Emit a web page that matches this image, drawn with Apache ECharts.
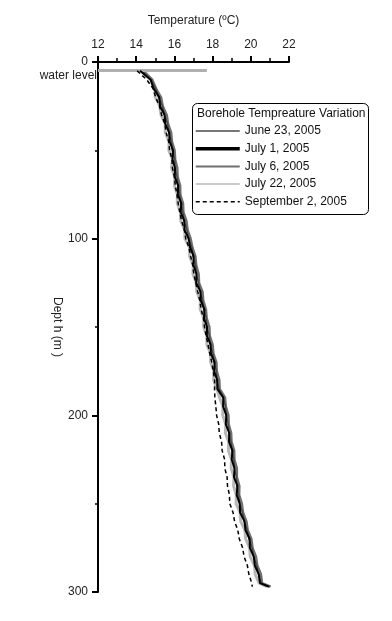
<!DOCTYPE html>
<html>
<head>
<meta charset="utf-8">
<script src="https://cdn.jsdelivr.net/npm/echarts@6/dist/echarts.min.js"></script>
<style>html,body{margin:0;padding:0;background:#fff}#c{width:392px;height:621px}</style>
</head>
<body>
<div id="c"></div>
<script>
var xTicks = [12, 14, 16, 18, 20, 22];
var yTicks = [0, 100, 200, 300];
var seriesNames = ['June 23, 2005', 'July 1, 2005', 'July 6, 2005', 'July 22, 2005', 'September 2, 2005'];
var legendTitle = 'Borehole Tempreature Variation';
var waterLevelDepth = 4.5;
var waterLevelTemp = 17.7;

var depths = [5,10,15,20,25,30,35,40,45,50,55,60,65,70,75,80,85,90,95,100,
  105,110,115,120,125,130,135,140,145,150,155,160,165,170,175,180,185,190,195,200,
  205,210,215,220,225,230,235,240,245,250,255,260,265,270,275,280,285,290,295,297];

var june23 = [14.30,14.78,15.02,15.17,15.38,15.47,15.65,15.70,15.85,15.88,16.02,16.03,16.14,16.17,16.29,16.32,16.45,16.50,16.66,16.73,
  16.92,16.97,17.12,17.14,17.27,17.34,17.48,17.53,17.67,17.70,17.83,17.87,18.02,18.07,18.20,18.22,18.34,18.55,18.68,18.71,
  18.82,18.85,18.97,19.00,19.12,19.14,19.25,19.27,19.37,19.41,19.57,19.65,19.82,19.90,20.07,20.14,20.32,20.40,20.56,21.00];

var july1 = [14.20,14.75,14.91,15.21,15.25,15.49,15.52,15.73,15.75,15.93,15.90,16.03,16.02,16.20,16.18,16.36,16.33,16.52,16.53,16.75,
  16.82,17.01,17.00,17.16,17.14,17.37,17.38,17.57,17.55,17.71,17.70,17.90,17.91,18.11,18.08,18.24,18.25,18.56,18.55,18.72,
  18.69,18.87,18.86,19.04,19.00,19.15,19.12,19.30,19.26,19.42,19.44,19.67,19.72,19.94,19.95,20.16,20.21,20.42,20.48,20.95];

var july6 = [14.35,14.84,15.04,15.30,15.39,15.60,15.67,15.83,15.87,16.01,16.04,16.15,16.17,16.30,16.31,16.45,16.47,16.63,16.69,16.85,
  16.94,17.10,17.14,17.27,17.29,17.47,17.51,17.65,17.69,17.83,17.85,18.00,18.04,18.20,18.22,18.35,18.37,18.65,18.69,18.83,
  18.84,18.97,18.99,19.13,19.14,19.27,19.27,19.40,19.39,19.53,19.59,19.77,19.84,20.03,20.09,20.27,20.34,20.53,20.59,21.04];

var july22 = [14.40,14.82,14.97,15.00,15.24,15.30,15.52,15.52,15.72,15.71,15.90,15.85,16.02,16.00,16.16,16.15,16.32,16.33,16.54,16.55,
  16.79,16.80,16.99,16.97,17.14,17.17,17.36,17.35,17.54,17.53,17.70,17.70,17.89,17.90,18.07,18.05,18.22,18.37,18.54,18.53,
  18.69,18.67,18.84,18.83,18.99,18.97,19.12,19.10,19.24,19.23,19.44,19.47,19.69,19.73,19.94,19.97,20.19,20.23,20.44,20.85];

var sept2 = [14.05,14.55,14.88,15.02,15.22,15.33,15.50,15.57,15.70,15.75,15.87,15.90,16.00,16.05,16.13,16.20,16.28,16.38,16.52,16.60,
  16.76,16.85,16.96,17.02,17.12,17.22,17.33,17.40,17.52,17.58,17.66,17.76,17.85,17.96,18.03,18.11,18.10,18.12,18.17,18.21,
  18.32,18.35,18.47,18.50,18.63,18.64,18.76,18.78,18.88,18.90,19.07,19.15,19.32,19.40,19.57,19.65,19.82,19.90,20.05,20.08];

function pairs(temps) { return depths.map(function (d, i) { return [temps[i], d]; }); }

var FONT = '"Liberation Sans", Arial, sans-serif';
var chart = echarts.init(document.getElementById('c'), null, {renderer: 'canvas'});

var styles = [
  {color: '#4a4a4a', width: 1.5, type: 'solid', z: 4},
  {color: '#000000', width: 2.0, type: 'solid', z: 5},
  {color: '#707070', width: 2.5, type: 'solid', z: 3},
  {color: '#b8b8b8', width: 3.0, type: 'solid', z: 2},
  {color: '#000000', width: 1.5, type: [4, 3], z: 6}
];
var legendWidths = [1.5, 3.5, 2, 1.5, 1.5];
var allTemps = [june23, july1, july6, july22, sept2];

var series = seriesNames.map(function (name, k) {
  var s = styles[k];
  var obj = {
    name: name,
    type: 'line',
    data: pairs(allTemps[k]),
    symbol: 'none',
    showSymbol: false,
    z: s.z,
    color: s.color,
    lineStyle: {color: s.color, width: s.width, type: s.type},
    animation: false
  };
  if (k === 3) {
    obj.markLine = {
      silent: true,
      animation: false,
      symbol: ['none', 'arrow'],
      symbolSize: [0, 7],
      lineStyle: {color: '#b0b0b0', width: 3, type: 'solid'},
      label: {
        show: true, position: 'start', formatter: 'water level',
        color: '#222', fontSize: 12, fontFamily: FONT,
        distance: 1, verticalAlign: 'top'
      },
      data: [[{coord: [xTicks[0], waterLevelDepth]}, {coord: [waterLevelTemp, waterLevelDepth]}]]
    };
  }
  return obj;
});

var legendData = seriesNames.map(function (name, k) {
  return {name: name, itemStyle: {opacity: 0}, lineStyle: {width: legendWidths[k]}};
});

chart.setOption({
  backgroundColor: '#fff',
  animation: false,
  textStyle: {fontFamily: FONT},
  grid: {left: 98, top: 62, width: 191, height: 530, containLabel: false},
  xAxis: {
    type: 'value', position: 'top',
    min: xTicks[0], max: xTicks[xTicks.length - 1], interval: 2,
    name: 'Temperature (ºC)', nameLocation: 'middle', nameGap: 35,
    nameTextStyle: {color: '#222', fontSize: 12, fontFamily: FONT},
    axisLine: {show: true, onZero: false, lineStyle: {color: '#000', width: 2}},
    axisTick: {show: true, inside: false, length: 6, lineStyle: {color: '#000', width: 2}},
    minorTick: {show: true, splitNumber: 2, length: 4, lineStyle: {color: '#000', width: 1.5}},
    axisLabel: {color: '#222', fontSize: 12, margin: 11, fontFamily: FONT},
    splitLine: {show: false}
  },
  yAxis: {
    type: 'value', inverse: true,
    min: yTicks[0], max: yTicks[yTicks.length - 1], interval: 100,
    name: 'Dept h (m )', nameLocation: 'middle', nameGap: 35, nameRotate: -90,
    nameTextStyle: {color: '#222', fontSize: 12, fontFamily: FONT},
    axisLine: {show: true, onZero: false, lineStyle: {color: '#000', width: 2}},
    axisTick: {show: true, inside: false, length: 6, lineStyle: {color: '#000', width: 2}},
    minorTick: {show: true, splitNumber: 2, length: 3, lineStyle: {color: '#000', width: 1.5}},
    axisLabel: {color: '#222', fontSize: 12, margin: 10, fontFamily: FONT},
    splitLine: {show: false}
  },
  graphic: [
    {type: 'rect', z: 1, shape: {x: 192.5, y: 103.5, width: 176, height: 111, r: 5},
      style: {fill: '#fff', stroke: '#000', lineWidth: 1}},
    {type: 'text', z: 2, x: 197, y: 114,
      style: {text: legendTitle, font: '12px ' + FONT, fill: '#111', textVerticalAlign: 'middle', verticalAlign: 'middle'}}
  ],
  legend: {
    data: legendData,
    orient: 'vertical',
    left: 194, top: 125,
    padding: 0,
    itemWidth: 44, itemHeight: 12, itemGap: 5.7,
    z: 10,
    itemStyle: {opacity: 0},
    textStyle: {color: '#111', fontSize: 12, fontFamily: FONT}
  },
  series: series
});
</script>
</body>
</html>
